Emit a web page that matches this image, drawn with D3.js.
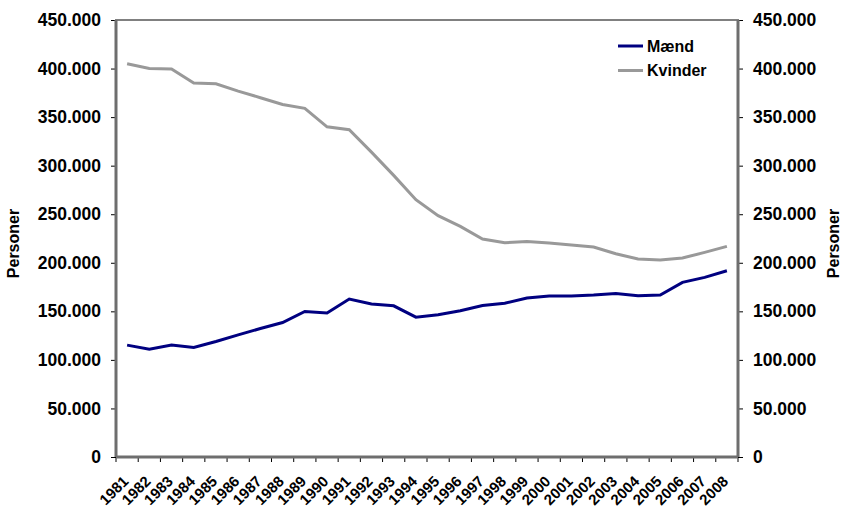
<!DOCTYPE html>
<html>
<head>
<meta charset="utf-8">
<script src="https://cdn.jsdelivr.net/npm/d3@7"></script>
<style>
  body { margin: 0; background: #fff; }
  svg { font-family: "Liberation Sans", Arial, sans-serif; }
  .axis text { font-weight: bold; font-size: 17.5px; fill: #000; }
  .axis path { display: none; }
  .axis line { stroke: #000; }
</style>
</head>
<body>
<svg id="chart"></svg>
<script>
// data
var years = ["1981","1982","1983","1984","1985","1986","1987","1988","1989","1990",
  "1991","1992","1993","1994","1995","1996","1997","1998","1999","2000",
  "2001","2002","2003","2004","2005","2006","2007","2008"];
var maend = [115200, 111000, 115200, 112700, 118900, 125800, 132300, 138500, 149900, 148200,
  162600, 157500, 155700, 144000, 146500, 150600, 156000, 158400, 163700, 165700,
  165700, 166700, 168400, 166000, 166700, 179800, 185000, 191800];
var kvinder = [405000, 400000, 399500, 385000, 384400, 376800, 370000, 363000, 359000, 340000,
  337000, 314000, 290000, 265000, 248500, 237500, 224500, 220700, 222000, 220400,
  218300, 216300, 209300, 203900, 202800, 205000, 210700, 216900];
var yTicks = [0, 50000, 100000, 150000, 200000, 250000, 300000, 350000, 400000, 450000];
var seriesNames = ["Mænd", "Kvinder"];
var colors = ["#000080", "#999999"];

var width = 842, height = 512;
var margin = { top: 20, right: 104, bottom: 55, left: 116 };
var w = width - margin.left - margin.right;
var h = height - margin.top - margin.bottom;

var svg = d3.select("svg#chart")
  .attr("width", width)
  .attr("height", height)
  .append("g")
  .attr("transform", "translate(" + margin.left + "," + margin.top + ")");

var x = d3.scaleBand().domain(years).range([0, w]);
var y = d3.scaleLinear().domain([0, 450000]).range([h, 0]);

var dk = d3.formatLocale({ decimal: ",", thousands: ".", grouping: [3], currency: ["", " kr"] });
var fmt = dk.format(",d");

// plot frame
svg.append("rect")
  .attr("x", 0).attr("y", 0)
  .attr("width", w).attr("height", h)
  .attr("fill", "none")
  .attr("stroke", "#808080")
  .attr("stroke-width", 2);

// left axis
svg.append("g")
  .attr("class", "axis")
  .call(d3.axisLeft(y).tickValues(yTicks).tickFormat(fmt).tickSize(5).tickPadding(10));

// right axis
svg.append("g")
  .attr("class", "axis")
  .attr("transform", "translate(" + w + ",0)")
  .call(d3.axisRight(y).tickValues(yTicks).tickFormat(fmt).tickSize(5).tickPadding(10));

// bottom ticks at band edges
svg.append("g")
  .selectAll("line")
  .data(years.concat(["end"]))
  .enter().append("line")
  .attr("x1", function (d, i) { return i * x.step(); })
  .attr("x2", function (d, i) { return i * x.step(); })
  .attr("y1", h)
  .attr("y2", h + 5)
  .attr("stroke", "#000");

// x labels
svg.append("g")
  .selectAll("text")
  .data(years)
  .enter().append("text")
  .attr("transform", function (d) {
    return "translate(" + (x(d) + x.bandwidth() / 2 - 3) + "," + (h + 20) + ") rotate(-45)";
  })
  .attr("text-anchor", "end")
  .attr("dy", "0.5em")
  .style("font-weight", "bold")
  .style("font-size", "15px")
  .text(function (d) { return d; });

// axis lines (darker than frame)
svg.append("line").attr("x1", 0).attr("x2", 0).attr("y1", 0).attr("y2", h)
  .attr("stroke", "#6e6e6e").attr("stroke-width", 3);
svg.append("line").attr("x1", w).attr("x2", w).attr("y1", 0).attr("y2", h)
  .attr("stroke", "#6e6e6e").attr("stroke-width", 3);
svg.append("line").attr("x1", 0).attr("x2", w).attr("y1", h).attr("y2", h)
  .attr("stroke", "#6e6e6e").attr("stroke-width", 3);

// lines
var line = d3.line()
  .x(function (d, i) { return x(years[i]) + x.bandwidth() / 2; })
  .y(function (d) { return y(d); });

[maend, kvinder].forEach(function (s, k) {
  svg.append("path")
    .datum(s)
    .attr("fill", "none")
    .attr("stroke", colors[k])
    .attr("stroke-width", 3)
    .attr("d", line);
});

// axis titles
svg.append("text")
  .attr("transform", "translate(" + (-97) + "," + (h / 2 + 5) + ") rotate(-90)")
  .attr("text-anchor", "middle")
  .style("font-weight", "bold")
  .style("font-size", "16px")
  .text("Personer");
svg.append("text")
  .attr("transform", "translate(" + (w + 101) + "," + (h / 2 + 5) + ") rotate(-90)")
  .attr("text-anchor", "middle")
  .style("font-weight", "bold")
  .style("font-size", "16px")
  .text("Personer");

// legend
var legend = svg.append("g").attr("transform", "translate(502,26)");
seriesNames.forEach(function (n, k) {
  var g = legend.append("g").attr("transform", "translate(0," + (k * 24.5) + ")");
  g.append("line").attr("x1", 0).attr("x2", 25).attr("y1", 0).attr("y2", 0)
    .attr("stroke", colors[k]).attr("stroke-width", 3);
  g.append("text").attr("x", 29).attr("dy", "0.35em")
    .style("font-weight", "bold").style("font-size", "16px")
    .text(n);
});
</script>
</body>
</html>
